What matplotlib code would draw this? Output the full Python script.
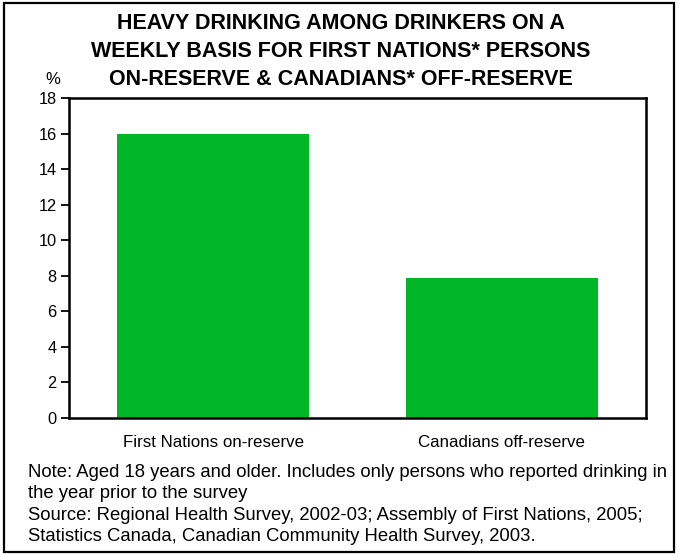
import matplotlib
matplotlib.use("Agg")
import matplotlib.pyplot as plt
from matplotlib.patches import Rectangle

categories = ["First Nations on-reserve", "Canadians off-reserve"]
values = [16.0, 7.9]
yticks = [0, 2, 4, 6, 8, 10, 12, 14, 16, 18]

title_lines = [
    "HEAVY DRINKING AMONG DRINKERS ON A",
    "WEEKLY BASIS FOR FIRST NATIONS* PERSONS",
    "ON-RESERVE & CANADIANS* OFF-RESERVE",
]
note_lines = [
    "Note: Aged 18 years and older. Includes only persons who reported drinking in",
    "the year prior to the survey",
    "Source: Regional Health Survey, 2002-03; Assembly of First Nations, 2005;",
    "Statistics Canada, Canadian Community Health Survey, 2003.",
]

plt.rcParams["font.family"] = ["Liberation Sans", "DejaVu Sans"]

W, H = 681, 554
fig = plt.figure(figsize=(W / 100, H / 100), dpi=100)


def fx(px):
    return px / W


def fy(py):
    return 1 - py / H


# outer frame
fig.patches.append(Rectangle((fx(3.5), fy(551.5)), fx(674) - fx(3.5), fy(3) - fy(551.5),
                             transform=fig.transFigure, fill=False,
                             edgecolor="black", linewidth=1.6, zorder=0))

ax = fig.add_axes([fx(69), fy(418), fx(646) - fx(69), fy(98) - fy(418)])
x = range(len(categories))
ax.bar(x, values, width=0.665, color="#00B526", zorder=2)
ax.set_xlim(-0.5, len(categories) - 0.5)
ax.set_ylim(0, 18)
ax.set_yticks(yticks)
ax.set_yticklabels([str(t) for t in yticks], fontsize=11.8)
ax.set_xticks(list(x))
ax.set_xticklabels(categories, fontsize=12.2)
ax.tick_params(axis="y", direction="out", length=6, width=1.3, pad=3)
ax.tick_params(axis="x", length=0, pad=12)
for s in ax.spines.values():
    s.set_linewidth(1.8)

# y unit label
fig.text(fx(52.5), fy(84), "%", ha="center", va="baseline", fontsize=12)

# title
for line, base in zip(title_lines, [29, 56.7, 85]):
    fig.text(fx(341), fy(base), line, ha="center", va="baseline",
             fontsize=15.5, fontweight="bold")

# notes and sources
for line, base in zip(note_lines, [476.7, 498.2, 519.7, 541.3]):
    fig.text(fx(28), fy(base), line, ha="left", va="baseline", fontsize=13.35)

fig.savefig("out.png", dpi=100)
